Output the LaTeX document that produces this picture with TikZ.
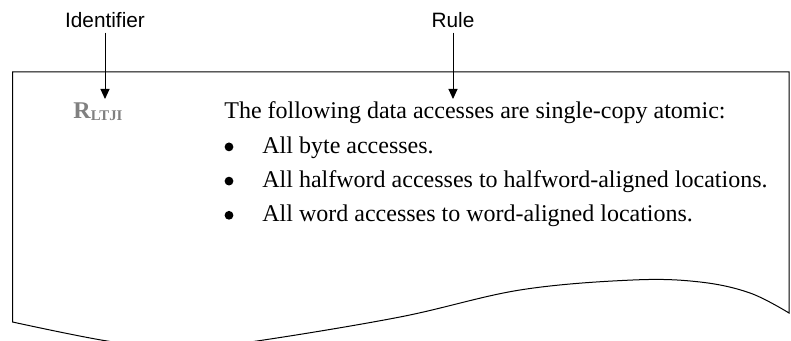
\documentclass[tikz,border=0pt]{standalone}
\usepackage{fontspec}
\setmainfont{Liberation Serif}
\newfontfamily\labelfont{Liberation Sans}
\usetikzlibrary{arrows.meta}
\definecolor{idgray}{RGB}{128,128,128}

\begin{document}
\begin{tikzpicture}[x=0.5pt,y=0.5pt,
	lbl/.style={font=\labelfont\fontsize{10.4}{12}\selectfont,inner sep=2.5pt},
	body/.style={font=\fontsize{12}{14}\selectfont,anchor=base west,inner sep=0pt},
	blob/.style={circle,fill=black,inner sep=0pt,minimum size=4.4pt},
	pointer/.style={-{Triangle[width=4.5pt,length=5pt]},line width=0.5pt}]
				\def\lx{12.5};
				\def\rx{789};
				\def\ty{269};
				\def\base{222};
				\def\gap{34.2};
				\useasboundingbox (0,0) rectangle (791,341);
				\clip (0,0) rectangle (791,341);
				% page outline with torn bottom
				\draw[line width=0.5pt] plot[smooth,tension=0.6] coordinates {(\lx,19) (107,0) (182,-8) (257,0) (400,24) (520,51) (633,61) (700,59) (750,48) (\rx,28)}
				-- (\rx,\ty) -- (\lx,\ty) -- cycle;
				% identifier and rule text
				\node[body,text=idgray] (rid) at (73,\base) {\textbf{R}\raisebox{-0.8pt}{\fontsize{7.4}{8}\selectfont\bfseries LTJI}};
				\node[body] (rtext) at (224,\base) {The following data accesses are single-copy atomic:};
				\foreach \txt [count=\i] in {{All byte accesses.},{All halfword accesses to halfword-aligned locations.},{All word accesses to word-aligned locations.}}{
					\node[body] (item\i) at (262,\base-\gap*\i) {\txt};
					\node[blob] (dot\i) at (229,\base-\gap*\i+6.3) {};
				}
				% callouts
				\node[lbl] (idlabel) at (105,321.3) {Identifier};
				\node[lbl] (rulelabel) at (453,321.3) {Rule};
				\coordinate (idtip) at (105,242);
				\coordinate (ruletip) at (453,242);
				\draw[pointer] (idlabel) -- (idtip);
				\draw[pointer] (rulelabel) -- (ruletip);
			\end{tikzpicture}
\end{document}
